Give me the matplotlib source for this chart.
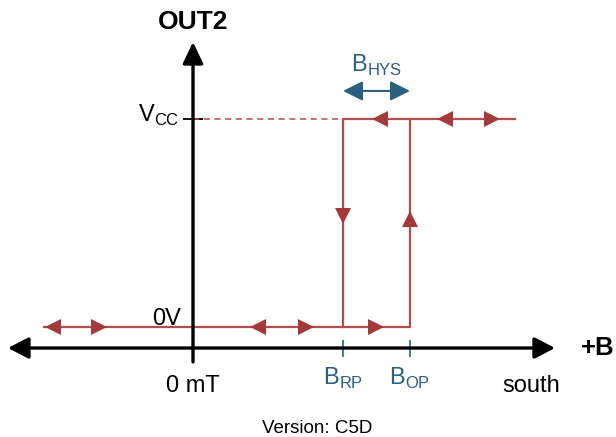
import matplotlib
matplotlib.use("Agg")
import matplotlib.pyplot as plt

plt.rcParams['font.family'] = ['Liberation Sans', 'DejaVu Sans']
plt.rcParams['mathtext.fontset'] = 'custom'
plt.rcParams['mathtext.rm'] = 'Liberation Sans'

# Datos del esquema (campo B en unidades del dibujo, salida normalizada 0..1)
B_RP = 150
B_OP = 217
B_MIN, B_MAX = -149, 322
OUT_LOW, OUT_HIGH = 0.0, 1.0

# Trazado de la salida
trace_x = [B_MIN, B_OP, B_OP, B_MAX]
trace_y = [OUT_LOW, OUT_LOW, OUT_HIGH, OUT_HIGH]
release_x = [B_OP, B_RP, B_RP]
release_y = [OUT_HIGH, OUT_HIGH, OUT_LOW]
dashed_x = [0, B_RP]
dashed_y = [OUT_HIGH, OUT_HIGH]

# Flechas de sentido (centro de cada triangulo)
left_x = [-140, 65, 187, 252]
left_y = [0, 0, 1, 1]
right_x = [-94, 113, 183, 299]
right_y = [0, 0, 0, 1]
down_x, down_y = [B_RP], [0.534]
up_x, up_y = [B_OP], [0.52]

# Ejes del dibujo
axis_y = -0.101
axis_x_range = [-185, 362]
out_axis_range = [-0.168, 1.37]

RED = '#a33a3a'
LINE = '#b44c4c'
TEAL = '#2b6080'

fig = plt.figure(figsize=(6.16, 4.37), dpi=100)
ax = fig.add_axes([0, 0, 1, 1])
ax.set_xlim(-193, 423)
ax.set_ylim(-0.5288, 1.5721)
ax.axis('off')

# ejes con flechas
ax.annotate('', xy=(axis_x_range[0], axis_y), xytext=(axis_x_range[1], axis_y),
            arrowprops=dict(arrowstyle='<|-|>,head_length=1.25,head_width=0.65',
                            mutation_scale=10, lw=2.4, color='black',
                            shrinkA=0, shrinkB=0))
ax.annotate('', xy=(0, out_axis_range[1]), xytext=(0, out_axis_range[0]),
            arrowprops=dict(arrowstyle='-|>,head_length=1.3,head_width=0.62',
                            mutation_scale=10, lw=2.4, color='black',
                            shrinkA=0, shrinkB=0))

# marcas en el eje vertical
for yv in [OUT_LOW, OUT_HIGH]:
    ax.plot([-10, 10], [yv, yv], color='black', lw=1.3, solid_capstyle='butt')

# marcas B_RP y B_OP
for xv in [B_RP, B_OP]:
    ax.plot([xv, xv], [-0.0625, -0.144], color=TEAL, lw=1.2, solid_capstyle='butt')

# trazado de la salida
ax.plot(dashed_x, dashed_y, color=LINE, lw=1.1, ls=(0, (4, 3)))
ax.plot(trace_x, trace_y, color=LINE, lw=1.6)
ax.plot(release_x, release_y, color=LINE, lw=1.6)

ms = 11
ax.plot(left_x, left_y, ls='none', marker='<', ms=ms, color=RED, mew=0)
ax.plot(right_x, right_y, ls='none', marker='>', ms=ms, color=RED, mew=0)
ax.plot(down_x, down_y, ls='none', marker='v', ms=ms, color=RED, mew=0)
ax.plot(up_x, up_y, ls='none', marker='^', ms=ms, color=RED, mew=0)

# histéresis
ax.annotate('', xy=(B_RP, 1.135), xytext=(B_OP, 1.135),
            arrowprops=dict(arrowstyle='<|-|>,head_length=1.2,head_width=0.6',
                            mutation_scale=10, lw=1.5, color=TEAL,
                            shrinkA=0, shrinkB=0))
ax.text((B_RP + B_OP) / 2, 1.226, r'B$_\mathregular{HYS}$', color=TEAL,
        fontsize=17, ha='center', va='baseline')

# textos
ax.text(0, 1.466, 'OUT2', fontsize=19, fontweight='bold', ha='center', va='center')
ax.text(421, axis_y, '+B', fontsize=18.5, fontweight='bold', ha='right', va='center')
ax.text(-14, 0.986, r'V$_\mathregular{CC}$', fontsize=17, ha='right', va='baseline')
ax.text(-12, 0.012, '0V', fontsize=17, ha='right', va='baseline')
ax.text(0, -0.3125, '0 mT', fontsize=17, ha='center', va='baseline')
ax.text(B_RP, -0.279, r'B$_\mathregular{RP}$', color=TEAL, fontsize=17,
        ha='center', va='baseline')
ax.text(B_OP, -0.279, r'B$_\mathregular{OP}$', color=TEAL, fontsize=17,
        ha='center', va='baseline')
ax.text(338, -0.3125, 'south', fontsize=17, ha='center', va='baseline')
ax.text(124, -0.49, 'Version: C5D', fontsize=13.5, ha='center', va='center')

fig.savefig('out.png', dpi=100)
